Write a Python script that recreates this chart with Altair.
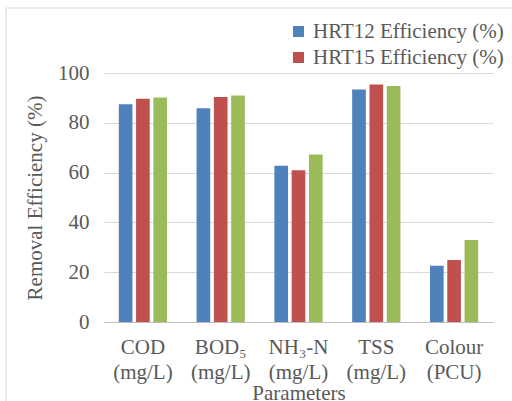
import altair as alt
import pandas as pd

categories = ["COD\n(mg/L)", "BOD₅\n(mg/L)", "NH₃-N\n(mg/L)", "TSS\n(mg/L)", "Colour\n(PCU)"]
series = ["HRT12 Efficiency (%)", "HRT15 Efficiency (%)", "HRT18 Efficiency (%)"]
hrt12 = [87.4, 85.8, 62.8, 93.4, 22.6]
hrt15 = [89.7, 90.4, 60.9, 95.4, 24.9]
hrt18 = [90.2, 91.0, 67.3, 94.8, 32.9]
colors = ["#4F81BD", "#C0504D", "#9BBB59"]

rows = []
for s, vals in zip(series, [hrt12, hrt15, hrt18]):
    for c, v in zip(categories, vals):
        rows.append({"Parameter": c, "Series": s, "Value": v})
df = pd.DataFrame(rows)

FONT = "Liberation Serif"
TXT = "#595959"
FS = 21

bars = alt.Chart(df).mark_bar().encode(
    x=alt.X("Parameter:N", sort=categories,
            scale=alt.Scale(paddingInner=0.38, paddingOuter=0.19),
            axis=alt.Axis(title="Parameters", labelAngle=0, labelExpr="split(datum.label, '\\n')",
                          labelFont=FONT, labelFontSize=FS, labelColor=TXT, labelLineHeight=25,
                          labelPadding=14, ticks=False, domainColor="#BFBFBF", domainWidth=1,
                          titleFont=FONT, titleFontSize=FS, titleFontWeight="normal", titleColor=TXT,
                          titlePadding=0, grid=False)),
    xOffset=alt.XOffset("Series:N", sort=series, scale=alt.Scale(paddingInner=0.21, paddingOuter=0)),
    y=alt.Y("Value:Q", scale=alt.Scale(domain=[0, 100]),
            axis=alt.Axis(title="Removal Efficiency (%)", values=[0, 20, 40, 60, 80, 100],
                          labelFont=FONT, labelFontSize=FS, labelColor=TXT, labelPadding=15,
                          ticks=False, domain=False, gridColor="#D9D9D9", gridWidth=1,
                          titleFont=FONT, titleFontSize=FS, titleFontWeight="normal", titleColor=TXT,
                          titlePadding=12)),
    color=alt.Color("Series:N", sort=series,
                    scale=alt.Scale(domain=series, range=colors),
                    legend=alt.Legend(title=None, values=series[:2], orient="none",
                                      legendX=184, legendY=-52, symbolType="square",
                                      symbolSize=121, symbolStrokeWidth=0, labelFont=FONT,
                                      labelFontSize=FS, labelColor=TXT, rowPadding=4,
                                      labelOffset=4, labelLimit=300)),
)

border_left = alt.Chart(pd.DataFrame({"a": [0]})).mark_rule(color="#D9D9D9", strokeWidth=1).encode(
    x=alt.value(-98), y=alt.value(-65), y2=alt.value(340))
border_top = alt.Chart(pd.DataFrame({"a": [0]})).mark_rule(color="#D9D9D9", strokeWidth=1).encode(
    x=alt.value(-98), x2=alt.value(420), y=alt.value(-65))

chart = alt.layer(bars, border_left, border_top).properties(
    width=389, height=249,
    autosize=alt.AutoSizeParams(type="none"),
    padding={"left": 104, "top": 73, "right": 19, "bottom": 79},
    background="white",
).configure_view(stroke=None)

chart.save("out.html", embed_options={"renderer": "svg", "actions": False})
